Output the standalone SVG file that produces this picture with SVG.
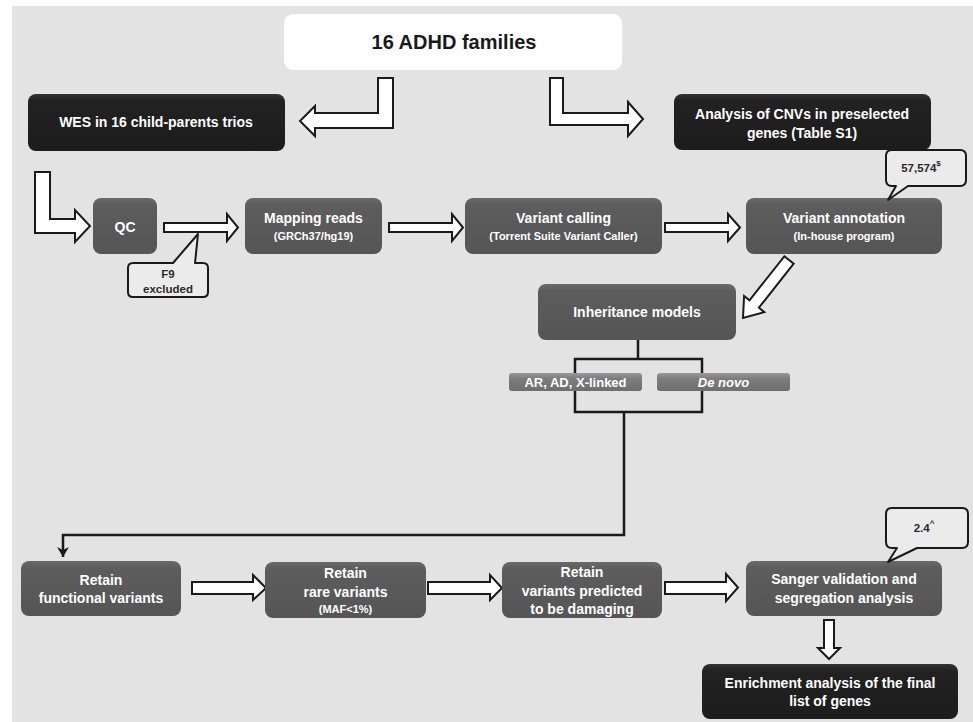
<svg xmlns="http://www.w3.org/2000/svg" width="973" height="722" viewBox="0 0 973 722">
<defs>
<linearGradient id="gGray" x1="0" y1="0" x2="0" y2="1">
<stop offset="0" stop-color="#6a6a6a"/><stop offset="0.12" stop-color="#5d5d5d"/><stop offset="1" stop-color="#555555"/>
</linearGradient>
<linearGradient id="gBlack" x1="0" y1="0" x2="0" y2="1">
<stop offset="0" stop-color="#333333"/><stop offset="0.12" stop-color="#222222"/><stop offset="1" stop-color="#1c1c1c"/>
</linearGradient>
<linearGradient id="gLight" x1="0" y1="0" x2="0" y2="1">
<stop offset="0" stop-color="#9a9a9a"/><stop offset="0.3" stop-color="#7d7d7d"/><stop offset="1" stop-color="#6e6e6e"/>
</linearGradient>
<marker id="ah" markerWidth="12" markerHeight="12" refX="10" refY="6" orient="auto" markerUnits="userSpaceOnUse" viewBox="0 0 12 12">
<path d="M0,0 L10,6 L0,12 L3,6 Z" fill="#1a1a1a"/>
</marker>
</defs>
<style>
.gray{fill:url(#gGray);}
.black{fill:url(#gBlack);}
.light{fill:url(#gLight);}
.blk{fill:#ffffff;stroke:#1a1a1a;stroke-width:2;stroke-linejoin:miter;}
.call{fill:#ebebeb;stroke:#1a1a1a;stroke-width:2;stroke-linejoin:round;}
.ln{fill:none;stroke:#1a1a1a;stroke-width:2.5;}
text{font-family:"Liberation Sans",Arial,sans-serif;font-weight:bold;text-anchor:middle;}
.t{fill:#ffffff;font-size:14px;}
.s{fill:#ffffff;font-size:11px;}
.c{fill:#2a2a2a;font-size:11.5px;}
</style>
<rect x="12" y="6" width="961" height="716" fill="#e3e3e3"/>

<g id="connectors">
<polygon class="blk" points="378,78 393,78 393,128 315,128 315,136 300,121 315,106 315,113 378,113"/>
<polygon class="blk" points="550,78 563,78 563,113 628,113 628,102 643,119 628,136 628,125 550,125"/>
<polygon class="blk" points="35,172 50,172 50,219 75,219 75,210 90,226 75,242 75,233 35,233"/>
<polygon class="blk" points="164,223 227,223 227,214 238,227.5 227,241 227,232 164,232"/>
<polygon class="blk" points="389,223 452,223 452,214 463,227.5 452,241 452,232 389,232"/>
<polygon class="blk" points="665,223 728,223 728,214 740,227.5 728,241 728,232 665,232"/>
<polygon class="blk" points="784.3,256.3 793.7,263.7 758.9,307.7 764.3,312.1 743,318 744.1,295.9 749.5,300.3"/>
<polygon class="blk" points="192,582 253,582 253,575 266,588 253,600 253,594 192,594"/>
<polygon class="blk" points="428,582 490,582 490,575 502,588 490,600 490,594 428,594"/>
<polygon class="blk" points="665,582 726,582 726,574 738,587.5 726,601 726,594 665,594"/>
<polygon class="blk" points="824,620 834,620 834,648 840,648 829,659 818,648 824,648"/>
<path class="ln" d="M638,340 V359 M575,359 H702 V412 H575 Z"/>
<path class="ln" d="M624,412 V535 H63 V557" marker-end="url(#ah)"/>
</g>

<g id="n-families">
<rect x="284" y="14" width="338" height="56" rx="9" fill="#ffffff"/>
<text x="454" y="49" style="font-size:20px;fill:#1a1a1a">16 ADHD families</text>
</g>
<g id="n-wes">
<rect class="black" x="28" y="94" width="257" height="57" rx="8"/>
<text class="t" x="156" y="127">WES in 16 child-parents trios</text>
</g>
<g id="n-cnv">
<rect class="black" x="674" y="94" width="257" height="56" rx="8"/>
<text class="t" x="802" y="119">Analysis of CNVs in preselected</text>
<text class="t" x="802" y="138">genes (Table S1)</text>
</g>
<g id="n-qc">
<rect class="gray" x="93" y="198" width="64" height="56" rx="8"/>
<text class="t" x="125" y="232">QC</text>
</g>
<g id="n-mapping">
<rect class="gray" x="245" y="198" width="137" height="56" rx="8"/>
<text class="t" x="313.5" y="223">Mapping reads</text>
<text class="s" x="313.5" y="240">(GRCh37/hg19)</text>
</g>
<g id="n-calling">
<rect class="gray" x="465" y="198" width="197" height="56" rx="8"/>
<text class="t" x="563.5" y="223">Variant calling</text>
<text class="s" x="563.5" y="240">(Torrent Suite Variant Caller)</text>
</g>
<g id="n-annotation">
<rect class="gray" x="746" y="198" width="196" height="56" rx="8"/>
<text class="t" x="844" y="223">Variant annotation</text>
<text class="s" x="844" y="240">(In-house program)</text>
</g>
<g id="c-f9">
<path class="call" d="M133,263 H173 L198,234 L195,263 H203 Q208,263 208,268 V292 Q208,297 203,297 H133 Q128,297 128,292 V268 Q128,263 133,263 Z"/>
<text class="c" x="168" y="278">F9</text>
<text class="c" x="168" y="293">excluded</text>
</g>
<g id="c-57574">
<path class="call" d="M892,150 H960 Q966,150 966,156 V180 Q966,186 960,186 H908 L888,200 L896,186 H892 Q886,186 886,180 V156 Q886,150 892,150 Z"/>
<text class="c" x="921" y="172">57,574<tspan dy="-6" style="font-size:8px">$</tspan></text>
</g>
<g id="n-inheritance">
<rect class="gray" x="538" y="284" width="198" height="56" rx="8"/>
<text class="t" x="637" y="317">Inheritance models</text>
</g>
<g id="n-ar">
<rect class="light" x="509" y="373" width="133" height="18" rx="3"/>
<text class="t" x="575.5" y="387" style="font-size:13px">AR, AD, X-linked</text>
</g>
<g id="n-denovo">
<rect class="light" x="657" y="373" width="133" height="18" rx="3"/>
<text class="t" x="723.5" y="387" style="font-size:13px;font-style:italic">De novo</text>
</g>
<g id="n-functional">
<rect class="gray" x="21" y="561" width="160" height="55" rx="8"/>
<text class="t" x="101" y="585">Retain</text>
<text class="t" x="101" y="603">functional variants</text>
</g>
<g id="n-rare">
<rect class="gray" x="265" y="562" width="161" height="56" rx="8"/>
<text class="t" x="345.5" y="578">Retain</text>
<text class="t" x="345.5" y="597">rare variants</text>
<text class="s" x="345.5" y="613">(MAF&lt;1%)</text>
</g>
<g id="n-damaging">
<rect class="gray" x="502" y="562" width="160" height="56" rx="8"/>
<text class="t" x="582" y="577">Retain</text>
<text class="t" x="582" y="596">variants predicted</text>
<text class="t" x="582" y="614">to be damaging</text>
</g>
<g id="n-sanger">
<rect class="gray" x="746" y="561" width="196" height="55" rx="8"/>
<text class="t" x="844" y="584">Sanger validation and</text>
<text class="t" x="844" y="603">segregation analysis</text>
</g>
<g id="c-24">
<path class="call" d="M892,508 H962 Q968,508 968,514 V542 Q968,548 962,548 H917 L888,562 L897,548 H892 Q886,548 886,542 V514 Q886,508 892,508 Z"/>
<text class="c" x="924" y="532">2.4<tspan dy="-6" style="font-size:8px">^</tspan></text>
</g>
<g id="n-enrichment">
<rect class="black" x="702" y="664" width="256" height="55" rx="8"/>
<text class="t" x="830" y="688">Enrichment analysis of the final</text>
<text class="t" x="830" y="706">list of genes</text>
</g>
</svg>
